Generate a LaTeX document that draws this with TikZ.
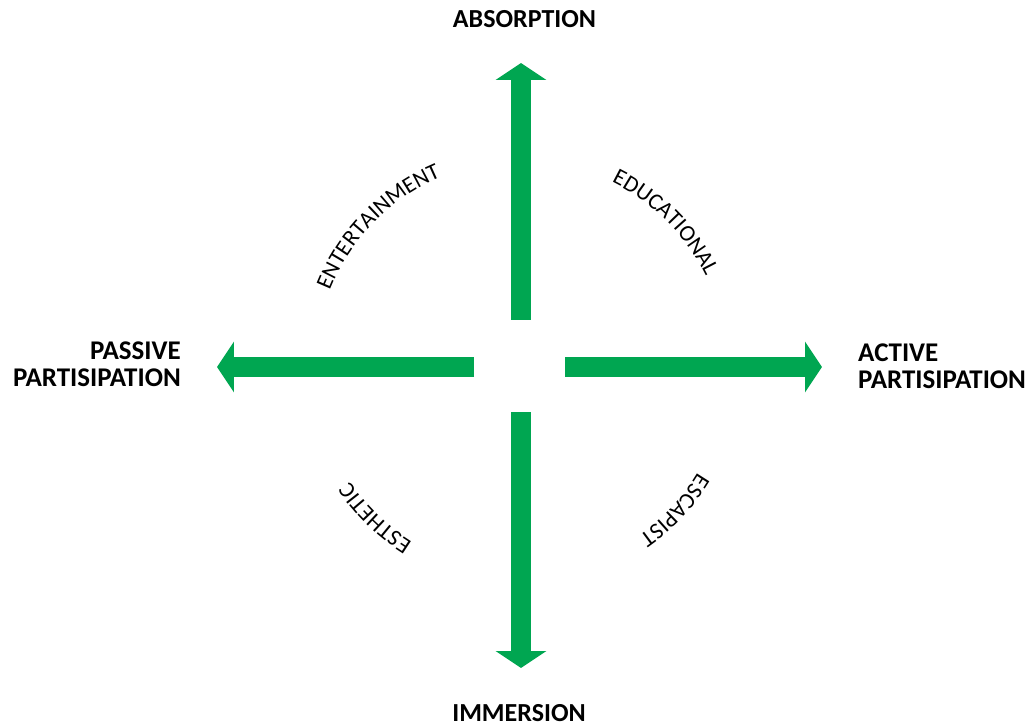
\documentclass[tikz,border=0pt]{standalone}
\usepackage{fontspec}
\setmainfont{Carlito}
\usetikzlibrary{arrows.meta,decorations.text}
\definecolor{arrgreen}{RGB}{0,166,81}
\tikzset{
  axisarrow/.style={draw=arrgreen, line width=20pt,
    -{Triangle[width=50pt,length=17pt,fill=arrgreen]}},
  axislabel/.style={font=\fontsize{26}{27}\selectfont\bfseries, inner sep=0pt},
  sidelabel/.style={font=\fontsize{27}{27}\selectfont\bfseries, inner sep=0pt},
  arctext/.style={decorate, decoration={text along path, text align=center,
    text format delimiters={|}{|}, text={|\fontsize{23}{23}\selectfont|#1}}}
}
\begin{document}
\begin{tikzpicture}[x=1pt,y=1pt]
\fill[white] (-521,-358) rectangle (511,367);
\useasboundingbox (-521,-358) rectangle (511,367);
% start points of the shafts and tips
\coordinate (s-n) at (0,47);
\coordinate (t-n) at (0,304);
\coordinate (s-s) at (0,-45);
\coordinate (t-s) at (0,-301);
\coordinate (s-e) at (44,0);
\coordinate (t-e) at (301,0);
\coordinate (s-w) at (-47,0);
\coordinate (t-w) at (-304,0);
\draw[axisarrow] (s-n) -- (t-n);
\draw[axisarrow] (s-s) -- (t-s);
\draw[axisarrow] (s-e) -- (t-e);
\draw[axisarrow] (s-w) -- (t-w);
% axis labels
\node[axislabel, anchor=base] (absorption) at (3.5,339) {ABSORPTION};
\node[axislabel, anchor=base] (immersion) at (-2,-354) {IMMERSION};
\node[sidelabel, anchor=east, align=right] (passive) at (-340,2.5) {PASSIVE\\PARTISIPATION};
\node[sidelabel, anchor=west, align=left] (active) at (337,0.5) {ACTIVE\\PARTISIPATION};
% quadrant labels along a circle
\path[arctext=ENTERTAINMENT] (165.5:206) arc[start angle=165.5, end angle=105.5, radius=206];
\path[arctext=EDUCATIONAL] (75:206) arc[start angle=75, end angle=15, radius=206];
\path[arctext=ESCAPIST] (-13:206) arc[start angle=-13, end angle=-73, radius=206];
\path[arctext=ESTHETIC] (256:206) arc[start angle=256, end angle=196, radius=206];
\end{tikzpicture}
\end{document}
